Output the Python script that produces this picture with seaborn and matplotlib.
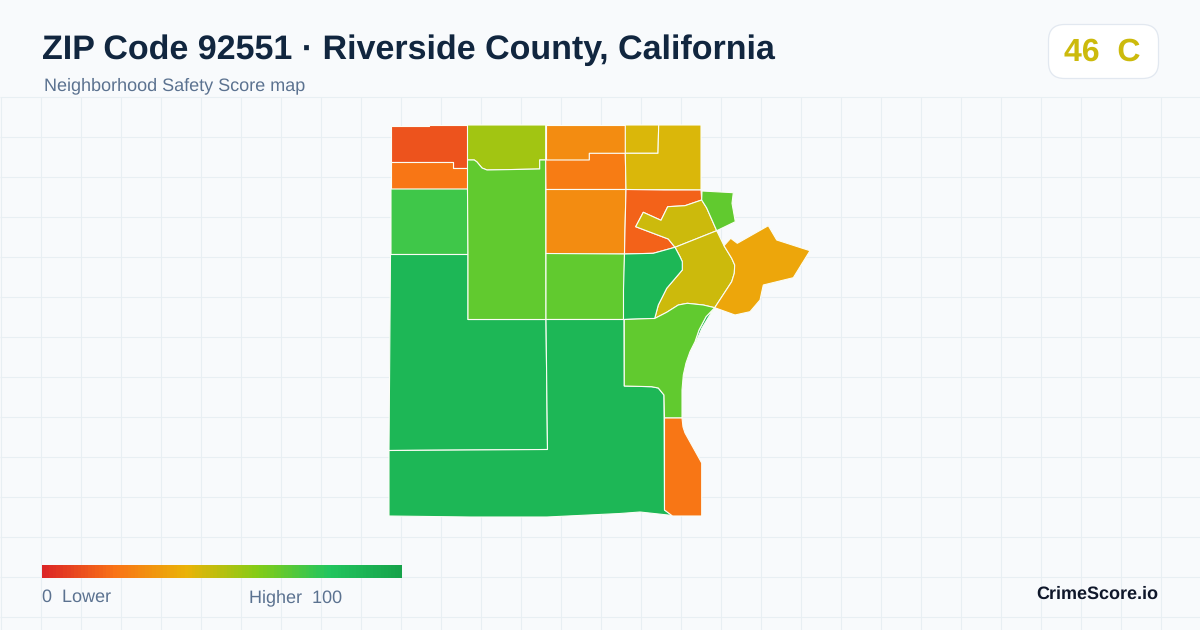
import numpy as np
import matplotlib
matplotlib.use("Agg")
import matplotlib.pyplot as plt
from matplotlib.patches import FancyBboxPatch
import seaborn as sns

# Score ramp used by the legend and the tracts
ramp_colors = ["#dc2626", "#f97316", "#eab308", "#84cc16", "#22c55e", "#16a34a"]

# Tract outlines (x, y in image pixels)
nw_corner = [(391, 126), (429, 126), (429, 125), (467.5, 125), (467.5, 168), (453, 168), (453, 161.7), (391, 161.7)]
nw_strip = [(391, 161.7), (453, 161.7), (453, 168), (467.5, 168), (467.5, 189), (391, 189)]
west_block = [(391, 189), (467.5, 189), (468, 254.5), (391, 254.5)]
sw_block = [(390.5, 254.5), (468, 254.5), (468, 319.5), (546, 319.5), (547.5, 449.5), (389, 450.5)]
north_cap = [(467.5, 125), (545.7, 125), (545.7, 160), (539.7, 160), (539.7, 169), (514, 169.5), (487, 170),
             (482, 168), (477, 162), (474.3, 160), (467.5, 160)]
mid_column = [(467.5, 160), (474.3, 160), (477, 162), (482, 168), (487, 170), (514, 169.5), (539.7, 169),
              (539.7, 160), (545.7, 160), (546, 319.5), (468, 319.5), (468, 254.5), (467.5, 189)]
north_a = [(545.7, 125), (625.3, 125), (625.3, 153.3), (589.3, 153.3), (589.3, 160), (545.7, 160)]
north_b = [(545.7, 160), (589.3, 160), (589.3, 153.3), (625.3, 153.3), (626, 189.5), (546, 189.5)]
centre_a = [(546, 189.5), (626, 189.5), (625, 230), (624.5, 254), (586, 254), (546, 253.5)]
centre_b = [(546, 253.5), (624.5, 254), (623.5, 319.5), (546, 319.5)]
ne_small = [(625.3, 125), (658.7, 125), (658, 153.3), (625.3, 153.3)]
ne_large = [(658.7, 125), (701, 125), (701, 190), (626, 189.5), (625.3, 153.3), (658, 153.3)]
hook = [(626, 189.5), (664, 190), (701, 190), (701.7, 200), (685, 205.7), (667.7, 206.7), (661, 220.3),
        (643.3, 212.3), (635.7, 226.7), (668.3, 239), (675, 247.3), (653.3, 253.3), (624.5, 254), (625, 230)]
olive_north = [(701.7, 200), (685, 205.7), (667.7, 206.7), (661, 220.3), (643.3, 212.3), (635.7, 226.7),
               (668.3, 239), (675, 247.3), (716.7, 230.7), (706.7, 208)]
olive_south = [(675, 247.3), (716.7, 230.7), (724, 245.7), (731.7, 258.3), (734.7, 265), (734.3, 273.3),
               (731.7, 281.7), (714.7, 307.7), (703.3, 305), (687.3, 303.3), (678.3, 305), (666.7, 312.3),
               (654.7, 318.5), (658.3, 305), (666.7, 288.3), (682.3, 270), (682.3, 261.7), (680, 256.7)]
inner_green = [(624.5, 254), (653.3, 253.3), (675, 247.3), (680, 256.7), (682.3, 261.7), (682.3, 270),
               (666.7, 288.3), (658.3, 305), (654.7, 318.5), (623.5, 319.5), (623.5, 290)]
ne_green = [(702, 191), (733.3, 192.7), (732, 203.3), (735.3, 221.7), (716.7, 230.7), (706.7, 208), (701.7, 200)]
east_amber = [(724, 245.7), (730.7, 238.3), (737.3, 243.3), (768.3, 225.7), (776.7, 240), (810, 250.7),
              (793.3, 277.7), (763.3, 285), (760, 300), (750, 311.7), (735, 315), (714.7, 307.7), (731.7, 281.7),
              (734.3, 273.3), (734.7, 265), (731.7, 258.3)]
south_large = [(389, 450.5), (547.5, 449.5), (546, 319.5), (624, 319.5), (624.3, 386), (651.7, 386.7), (658.3, 388),
               (664, 395), (664.5, 510), (672.5, 515.5), (640, 512), (620, 513.5), (547, 517), (470, 517), (389, 516)]
river_sliver = [(714, 308.5), (708, 318), (702, 328), (696, 342), (695, 341.7), (699, 330), (706, 316.7)]
se_green = [(624.3, 319.5), (651.7, 318.5), (654.7, 318.5), (666.7, 312.3), (678.3, 305), (687.3, 303.3), (703.3, 305),
            (714.7, 307.7), (706, 316.7), (699, 330), (695, 341.7), (690, 351.7), (686, 363), (683.3, 375),
            (682, 390), (682, 418), (664.5, 418), (664, 395), (658.3, 388), (651.7, 386.7), (624.3, 386)]
se_orange = [(664.5, 418), (682, 418), (683, 427), (685, 433), (701.7, 463), (701.7, 516), (672.5, 516), (664.5, 510)]

tracts = [nw_corner, nw_strip, west_block, sw_block, north_cap, mid_column, north_a, north_b, centre_a, centre_b,
          ne_small, ne_large, hook, olive_north, olive_south, inner_green, ne_green, east_amber, south_large,
          river_sliver, se_green, se_orange]
scores = [12, 21, 74, 88, 54, 67, 28, 23, 28, 67, 43, 43, 16, 46, 46, 88, 67, 36, 88, 88, 67, 21]

legend_scores = np.arange(0, 101)

bg = "#f8fafc"
grid_color = "#e8eff3"

sns.set_theme(style="white")
plt.rcParams["font.family"] = ["Liberation Sans", "DejaVu Sans"]
plt.rcParams["text.hinting"] = "no_hinting"
plt.rcParams["text.hinting_factor"] = 1

ramp = sns.blend_palette(ramp_colors, as_cmap=True)

fig = plt.figure(figsize=(12, 6.3), dpi=100, facecolor=bg)
ax = fig.add_axes([0, 0, 1, 1])
ax.set_xlim(0, 1200)
ax.set_ylim(630, 0)
ax.axis("off")

# Background grid starts below the header
ax.vlines(np.arange(0.5, 1200, 40), 96.5, 630, color=grid_color, lw=0.75, zorder=1)
ax.hlines(np.arange(96.5, 630, 40), 0, 1200, color=grid_color, lw=0.75, zorder=1)

# Tracts
for outline, score in zip(tracts, scores):
    xs, ys = zip(*outline)
    ax.fill(xs, ys, facecolor=ramp(score / 100), edgecolor="#fbfdf5", lw=0.8, joinstyle="round", zorder=2)

# Header
ax.text(42, 59, "ZIP Code 92551 · Riverside County, California", fontsize=24.5, fontweight="bold",
        color="#11263f", va="baseline", ha="left")
ax.text(44, 90, "Neighborhood Safety Score map", fontsize=12.96, color="#5b7290", va="baseline", ha="left")

# Score badge
badge = FancyBboxPatch((1048.5, 24.5), 110, 54, boxstyle="round,pad=0,rounding_size=16",
                       facecolor="white", edgecolor="#e2e8f0", lw=0.9, zorder=3)
ax.add_patch(badge)
ax.text(1102.5, 61, "46  C", fontsize=23, fontweight="bold", color=ramp(0.46), va="baseline", ha="center", zorder=4)

# Legend
ax.text(42, 602, "0  Lower", fontsize=12.96, color="#5b7290", va="baseline", ha="left")
ax.text(342, 602, "Higher  100", fontsize=12.96, color="#5b7290", va="baseline", ha="right")
ax.text(1158, 599, "CrimeScore.io", fontsize=12.96, fontweight="bold", color="#0f172a", va="baseline", ha="right")

cax = fig.add_axes([42 / 1200, 1 - 578 / 630, 360 / 1200, 13 / 630])
sns.heatmap(legend_scores.reshape(1, -1), cmap=ramp, vmin=0, vmax=100, cbar=False, ax=cax,
            xticklabels=False, yticklabels=False)

fig.savefig("out.png", dpi=100, facecolor=bg)
